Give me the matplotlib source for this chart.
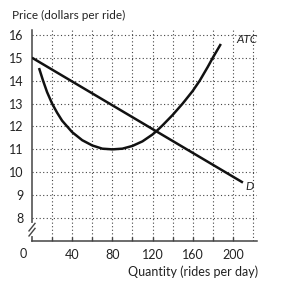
import matplotlib
matplotlib.use("Agg")
import matplotlib.pyplot as plt
import numpy as np

# Data
demand_q = [0, 210]
demand_p = [15.0, 9.55]

atc_q = [7, 11, 15, 20, 25, 30, 35, 40, 50, 60, 70, 80, 90, 100, 110, 120, 125,
         130, 140, 150, 160, 167, 175, 180, 188]
atc_p = [14.55, 14.0, 13.5, 13.0, 12.6, 12.25, 12.0, 11.75, 11.4, 11.17, 11.03,
         11.0, 11.03, 11.15, 11.35, 11.65, 11.84, 12.05, 12.5, 13.0, 13.55, 14.0,
         14.6, 15.0, 15.6]

y_ticks = [8, 9, 10, 11, 12, 13, 14, 15, 16]
x_grid = [20, 40, 60, 80, 100, 120, 140, 160, 180, 200, 220]
x_labels = [40, 80, 120, 160, 200]

font = ['Lato', 'DejaVu Sans']
plt.rcParams['font.family'] = font

W, H = 283, 292
fig = plt.figure(figsize=(W / 100, H / 100), dpi=100)
ax = fig.add_axes([32 / W, 51 / H, 225 / W, 211 / H])
ax.set_xlim(0, 224)
ax.set_ylim(7, 16.21)

gcol = '#444444'
for x in x_grid:
    ax.plot([x, x], [7, 16.21], linestyle=(0, (1, 2.2)), color=gcol, lw=0.8, zorder=1)
for y in y_ticks:
    ax.plot([0, 224], [y, y], linestyle=(0, (1, 2.2)), color=gcol, lw=0.8, zorder=1)

ax.plot(demand_q, demand_p, color='#111111', lw=1.8, solid_capstyle='butt', zorder=3)
ax.plot(atc_q, atc_p, color='#111111', lw=1.8, solid_capstyle='butt', zorder=3)

ax.text(214, 15.55, 'ATC', fontsize=8.5, style='italic', ha='center', va='bottom',
        color='#222222')
ax.text(212, 9.4, 'D', fontsize=8.5, style='italic', ha='left', va='center',
        color='#222222')

for s in ['top', 'right']:
    ax.spines[s].set_visible(False)
for s in ['left', 'bottom']:
    ax.spines[s].set_color('#444444')
    ax.spines[s].set_linewidth(1.1)

ax.set_yticks(y_ticks)
ax.set_yticklabels([str(v) for v in y_ticks])
ax.tick_params(axis='y', length=0, pad=6, labelsize=9, colors='#222222')
ax.set_xticks(x_grid[:-1])
ax.set_xticklabels([str(v) if v in x_labels else '' for v in x_grid[:-1]])
ax.tick_params(axis='x', direction='in', length=3, width=1, color='#444444',
               pad=6, labelsize=9, labelcolor='#222222')

# zero label and axis break
ax.annotate('0', xy=(0, 0), xycoords='axes fraction', xytext=(-9, -13),
            textcoords='offset pixels', ha='center', va='center', fontsize=9,
            color='#222222')
ax.plot([0, 0], [7.3, 7.68], color='white', lw=3, zorder=5, clip_on=False)
for dy in [0.0, 0.22]:
    ax.plot([-3, 3], [7.22 + dy, 7.55 + dy], color='#444444', lw=1, zorder=6,
            clip_on=False)

fig.text(12 / W, 1 - 15 / H, 'Price (dollars per ride)', fontsize=8.5,
         ha='left', va='center', color='#222222')
fig.text(258 / W, 1 - 272 / H, 'Quantity (rides per day)', fontsize=9,
         ha='right', va='center', color='#222222')

fig.savefig('out.png', dpi=100, facecolor='white')
